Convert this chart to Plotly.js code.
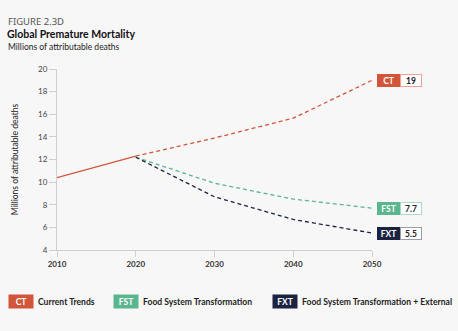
<!DOCTYPE html>
<html><head><meta charset="utf-8">
<script src="https://cdn.plot.ly/plotly-3.0.1.min.js"></script>
<style>html,body{margin:0;padding:0;background:#f7f7f7;}#chart{width:458px;height:331px;}</style>
</head><body><div id="chart"></div>
<script>
// ---- data ----
const histYears = [2010, 2020];
const histValues = [10.4, 12.3];
const projYears = [2020, 2030, 2040, 2050];
const ctValues = [12.3, 13.9, 15.65, 19];
const fstValues = [12.2, 9.9, 8.5, 7.7];
const fxtValues = [12.2, 8.7, 6.7, 5.5];
const seriesCodes = ["CT", "FST", "FXT"];
const seriesNames = ["Current Trends", "Food System Transformation", "Food System Transformation + External"];
const endLabels = ["19", "7.7", "5.5"];
const colors = ["#d2553a", "#5bb58e", "#1b2340"];
const borderColors = ["#eba493", "#a6dcc3", "#9a9cab"];
const yTicks = [4, 6, 8, 10, 12, 14, 16, 18, 20];
const xTicks = [2010, 2020, 2030, 2040, 2050];

const FONT = "Lato, 'Noto Sans', sans-serif";
const L = 57, R = 86, T = 69, B = 81;
const plotH = 331 - T - B, plotW = 458 - L - R;
const py = p => (331 - B - p) / plotH;   // pixel y -> paper y
const px = p => (p - L) / plotW;         // pixel x -> paper x

const traces = [
  {x: histYears, y: histValues, mode: "lines", line: {color: colors[0], width: 1.3}, hoverinfo: "skip", showlegend: false},
  {x: projYears, y: ctValues, mode: "lines", line: {color: colors[0], width: 1.3, dash: "4px,3px"}, name: seriesNames[0], showlegend: false},
  {x: projYears, y: fstValues, mode: "lines", line: {color: colors[1], width: 1.3, dash: "4px,3px"}, name: seriesNames[1], showlegend: false},
  {x: projYears, y: fxtValues, mode: "lines", line: {color: colors[2], width: 1.3, dash: "4px,3px"}, name: seriesNames[2], showlegend: false}
];

const endVals = [ctValues[3], fstValues[3], fxtValues[3]];
const annotations = [
  {text: "FIGURE 2.3D", xref: "paper", yref: "paper", x: px(6), y: py(21), xanchor: "left", yanchor: "middle", showarrow: false,
   font: {family: "'Noto Sans', sans-serif", size: 9.5, color: "#555"}},
  {text: "Millions of attributable deaths", xref: "paper", yref: "paper", x: px(6), y: py(47), xanchor: "left", yanchor: "middle", showarrow: false,
   font: {family: FONT, size: 8.5, color: "#222"}}
];
for (let i = 0; i < 3; i++) {
  annotations.push({text: "<b>" + seriesCodes[i] + "</b>", x: 2050, y: endVals[i], xref: "x", yref: "y", xanchor: "left", yanchor: "middle",
    xshift: 5, showarrow: false, bgcolor: colors[i], bordercolor: colors[i], borderwidth: 0, borderpad: 0, width: 23, height: 13,
    font: {family: FONT, size: 8.5, color: "#fff"}});
  annotations.push({text: "<b>" + endLabels[i] + "</b>", x: 2050, y: endVals[i], xref: "x", yref: "y", xanchor: "left", yanchor: "middle",
    xshift: 28, showarrow: false, bgcolor: "#fff", bordercolor: borderColors[i], borderwidth: 1, borderpad: 0, width: 20, height: 11,
    font: {family: FONT, size: 8.5, color: "#222"}});
}
const legBoxX = [8, 113, 272];
for (let i = 0; i < 3; i++) {
  annotations.push({text: "<b>" + seriesCodes[i] + "</b>", xref: "paper", yref: "paper", x: px(legBoxX[i]), y: py(301.5), xanchor: "left", yanchor: "middle",
    showarrow: false, bgcolor: colors[i], borderpad: 0, width: 24, height: 13, font: {family: FONT, size: 8.5, color: "#fff"}});
  annotations.push({text: "<b>" + seriesNames[i] + "</b>", xref: "paper", yref: "paper", x: px(legBoxX[i] + 28), y: py(301.5), xanchor: "left", yanchor: "middle",
    showarrow: false, font: {family: FONT, size: 8.6, color: "#222"}});
}

const layout = {
  width: 458, height: 331,
  paper_bgcolor: "#f7f7f7", plot_bgcolor: "#f7f7f7",
  margin: {l: L, r: R, t: T, b: B},
  font: {family: FONT, color: "#333"},
  title: {text: "<b>Global Premature Mortality</b>", x: 7 / 458, xanchor: "left", xref: "container",
          y: 1 - 34 / 331, yanchor: "middle", yref: "container", font: {family: FONT, size: 10.5, color: "#111"}},
  xaxis: {range: [2010, 2050], tickvals: xTicks, ticktext: xTicks.map(v => "<b>" + v + "</b>"), showgrid: false, zeroline: false,
          showline: true, linecolor: "#cfcfcf", linewidth: 1, ticks: "outside", ticklen: 6, tickcolor: "#cfcfcf",
          tickfont: {family: FONT, size: 8, color: "#333"}, fixedrange: true},
  yaxis: {range: [4, 20], tickvals: yTicks, showgrid: false, zeroline: false, showline: true, linecolor: "#cfcfcf", linewidth: 1,
          ticks: "outside", ticklen: 7, tickcolor: "#cfcfcf", tickfont: {family: FONT, size: 8, color: "#444"},
          title: {text: "Millions of attributable deaths", font: {family: FONT, size: 8.5, color: "#222"}, standoff: 18}, fixedrange: true},
  annotations: annotations,
  showlegend: false
};
Plotly.newPlot("chart", traces, layout, {displayModeBar: false, staticPlot: true});
</script></body></html>
